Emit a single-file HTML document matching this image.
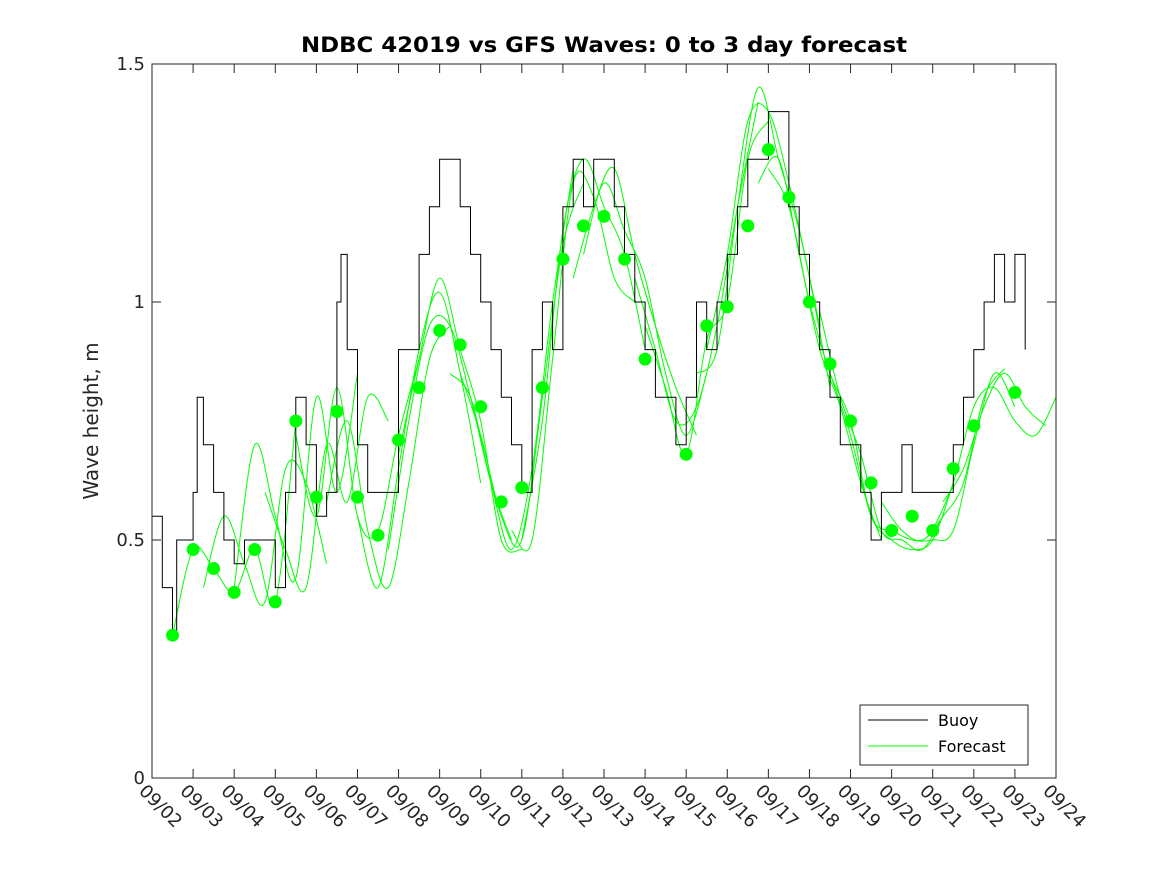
<!DOCTYPE html>
<html><head><meta charset="utf-8">
<style>
body{margin:0;background:#fff;}
svg{display:block;font-family:"DejaVu Sans","Liberation Sans",sans-serif;}
</style></head>
<body>
<svg id="chart" width="1167" height="875" viewBox="0 0 1167 875">
<rect width="1167" height="875" fill="#fff"/>
<rect x="152" y="64" width="904" height="714" fill="#fff"/>
<g id="marks"></g>
<rect x="152" y="64" width="904" height="714" fill="none" stroke="#262626" stroke-width="1"/>
<g id="axes"></g>
<text x="604" y="52" text-anchor="middle" font-size="21" font-weight="bold" fill="#000" textLength="606" lengthAdjust="spacingAndGlyphs">NDBC 42019 vs GFS Waves: 0 to 3 day forecast</text>
<text transform="translate(98,421) rotate(-90)" text-anchor="middle" font-size="20" fill="#262626">Wave height, m</text>
<g>
<rect x="860" y="705" width="168" height="60" fill="#fff" stroke="#262626" stroke-width="1"/>
<line x1="868" y1="720" x2="928" y2="720" stroke="#000" stroke-width="1"/>
<text x="938" y="726" font-size="16" fill="#000">Buoy</text>
<line x1="868" y1="746" x2="928" y2="746" stroke="#00ff00" stroke-width="1"/>
<text x="938" y="752" font-size="16" fill="#000">Forecast</text>
</g>
</svg>
<script>
const xTickLabels=["09/02","09/03","09/04","09/05","09/06","09/07","09/08","09/09","09/10","09/11","09/12","09/13","09/14","09/15","09/16","09/17","09/18","09/19","09/20","09/21","09/22","09/23","09/24"];
const yTicks=[0,0.5,1,1.5];
const yTickLabels=["0","0.5","1","1.5"];
const buoyDays=[0,0.25,0.5,0.6,0.75,1.0,1.1,1.25,1.5,1.75,2.0,2.25,2.5,2.75,3.0,3.25,3.5,3.75,4.0,4.25,4.5,4.6,4.75,5.0,5.25,5.5,5.75,6.0,6.25,6.5,6.75,7.0,7.25,7.5,7.75,8.0,8.25,8.5,8.75,9.0,9.25,9.5,9.75,10.0,10.25,10.5,10.75,11.0,11.25,11.5,11.75,12.0,12.25,12.5,12.75,13.0,13.25,13.5,13.75,14.0,14.25,14.5,14.75,15.0,15.25,15.5,15.75,16.0,16.25,16.5,16.75,17.0,17.25,17.5,17.75,18.0,18.25,18.5,18.75,19.0,19.25,19.5,19.75,20.0,20.25,20.5,20.75,21.0,21.25];
const buoyValues=[0.55,0.4,0.3,0.5,0.5,0.6,0.8,0.7,0.6,0.5,0.45,0.5,0.5,0.5,0.4,0.6,0.8,0.7,0.55,0.6,1.0,1.1,0.9,0.7,0.6,0.6,0.6,0.9,0.9,1.1,1.2,1.3,1.3,1.2,1.1,1.0,0.9,0.8,0.7,0.6,0.9,1.0,0.9,1.2,1.3,1.2,1.3,1.3,1.2,1.1,1.0,0.9,0.8,0.8,0.7,0.8,1.0,0.9,1.0,1.1,1.2,1.3,1.3,1.4,1.4,1.2,1.1,1.0,0.9,0.8,0.7,0.7,0.6,0.5,0.6,0.6,0.7,0.6,0.6,0.6,0.6,0.7,0.8,0.9,1.0,1.1,1.0,1.1,0.9];
const dotDays=[0.5,1,1.5,2,2.5,3,3.5,4,4.5,5,5.5,6,6.5,7,7.5,8,8.5,9,9.5,10,10.5,11,11.5,12,13,13.5,14,14.5,15,15.5,16,16.5,17,17.5,18,18.5,19,19.5,20,21];
const dotValues=[0.30,0.48,0.44,0.39,0.48,0.37,0.75,0.59,0.77,0.59,0.51,0.71,0.82,0.94,0.91,0.78,0.58,0.61,0.82,1.09,1.16,1.18,1.09,0.88,0.68,0.95,0.99,1.16,1.32,1.22,1.00,0.87,0.75,0.62,0.52,0.55,0.52,0.65,0.74,0.81];
const runStarts=[0.5,2.0,3.5,5.0,6.0,7.5,9.0,10.5,12.0,13.5,15.0,16.5,18.0,19.0,1.25,2.75,4.25,5.75,7.25,8.75,10.25,11.75,13.25,14.75,16.25,17.75,19.25];
const runValues=[
[0.30,0.48,0.44,0.39,0.48,0.37,0.75],
[0.40,0.70,0.55,0.42,0.80,0.60,0.85],
[0.72,0.55,0.82,0.55,0.52,0.72,0.88],
[0.55,0.40,0.65,0.90,1.02,0.85,0.62],
[0.68,0.88,1.05,0.90,0.75,0.50,0.48],
[0.85,0.72,0.55,0.50,0.80,1.12,1.25],
[0.50,0.75,1.15,1.30,1.20,1.10,0.90],
[1.10,1.25,1.15,1.05,0.85,0.72,0.85],
[0.95,0.82,0.68,0.92,1.00,1.30,1.38],
[0.90,1.10,1.38,1.40,1.25,1.05,0.82],
[1.28,1.20,1.00,0.85,0.75,0.55,0.52],
[0.85,0.72,0.55,0.50,0.48,0.50,0.62],
[0.52,0.50,0.50,0.52,0.70,0.85,0.78],
[0.52,0.62,0.78,0.82,0.75,0.72,0.80],
[0.40,0.55,0.45,0.37,0.65,0.62,0.45],
[0.60,0.48,0.40,0.70,0.58,0.80,0.75],
[0.58,0.75,0.52,0.40,0.62,0.88,0.95],
[0.48,0.75,0.95,0.95,0.80,0.62,0.50],
[0.85,0.80,0.62,0.48,0.65,1.00,1.28],
[0.52,0.50,0.88,1.25,1.22,1.05,1.00],
[1.05,1.20,1.28,1.10,0.95,0.82,0.72],
[1.05,0.90,0.75,0.78,0.95,1.20,1.42],
[0.85,0.90,1.20,1.45,1.30,1.15,0.95],
[1.25,1.30,1.10,0.90,0.78,0.62,0.50],
[0.98,0.80,0.68,0.52,0.50,0.48,0.55],
[0.58,0.52,0.50,0.55,0.62,0.80,0.86],
[0.58,0.65,0.78,0.85,0.78,0.74,0.70]];
const runStep=0.5;

const X0=152,X1=1056,Y0=778,Y1=64,DAYS=22,YMAX=1.5;
function xs(d){return X0+(X1-X0)*d/DAYS;}
function ys(v){return Y0-(Y0-Y1)*v/YMAX;}
const NS="http://www.w3.org/2000/svg";
const marks=document.getElementById('marks');
const axes=document.getElementById('axes');
function mk(tag,attrs,parent){const e=document.createElementNS(NS,tag);for(const k in attrs)e.setAttribute(k,attrs[k]);parent.appendChild(e);return e;}

runValues.forEach((vals,i)=>{
  let pts=[];
  vals.forEach((v,j)=>{const d=runStarts[i]+j*runStep;if(d<=DAYS)pts.push([xs(d),ys(v)]);});
  let dstr='M'+pts[0][0].toFixed(1)+','+pts[0][1].toFixed(1);
  for(let k=0;k<pts.length-1;k++){
    const p0=pts[Math.max(0,k-1)],p1=pts[k],p2=pts[k+1],p3=pts[Math.min(pts.length-1,k+2)];
    const c1x=p1[0]+(p2[0]-p0[0])/6,c1y=p1[1]+(p2[1]-p0[1])/6;
    const c2x=p2[0]-(p3[0]-p1[0])/6,c2y=p2[1]-(p3[1]-p1[1])/6;
    dstr+=` C${c1x.toFixed(1)},${c1y.toFixed(1)} ${c2x.toFixed(1)},${c2y.toFixed(1)} ${p2[0].toFixed(1)},${p2[1].toFixed(1)}`;
  }
  const p=mk('path',{d:dstr,fill:'none',stroke:'#00ff00','stroke-width':1},marks);
  
  
});
let bp=[];
buoyDays.forEach((d,i)=>{
  if(i>0)bp.push(xs(d).toFixed(1)+','+ys(buoyValues[i-1]).toFixed(1));
  bp.push(xs(d).toFixed(1)+','+ys(buoyValues[i]).toFixed(1));
});
const bl=mk('polyline',{points:bp.join(' '),fill:'none',stroke:'#000','stroke-width':1},marks);


dotDays.forEach((d,i)=>{
  const c=mk('circle',{cx:xs(d),cy:ys(dotValues[i]),r:6.5,fill:'#00ff00'},marks);
  
  
});
xTickLabels.forEach((lab,i)=>{
  const x=xs(i);
  mk('line',{x1:x,y1:Y0,x2:x,y2:Y0-9,stroke:'#262626'},axes);
  mk('line',{x1:x,y1:Y1,x2:x,y2:Y1+9,stroke:'#262626'},axes);
  const t=mk('text',{transform:`translate(${x-14},${Y0+14}) rotate(45)`,'font-size':18,fill:'#262626'},axes);
  t.textContent=lab;
  
  
});
yTicks.forEach((v,i)=>{
  const y=ys(v);
  mk('line',{x1:X0,y1:y,x2:X0+9,y2:y,stroke:'#262626'},axes);
  mk('line',{x1:X1,y1:y,x2:X1-9,y2:y,stroke:'#262626'},axes);
  const t=mk('text',{x:X0-7,y:y+6,'text-anchor':'end','font-size':18,fill:'#262626'},axes);
  t.textContent=yTickLabels[i];
  
  
});
</script>
</body></html>
